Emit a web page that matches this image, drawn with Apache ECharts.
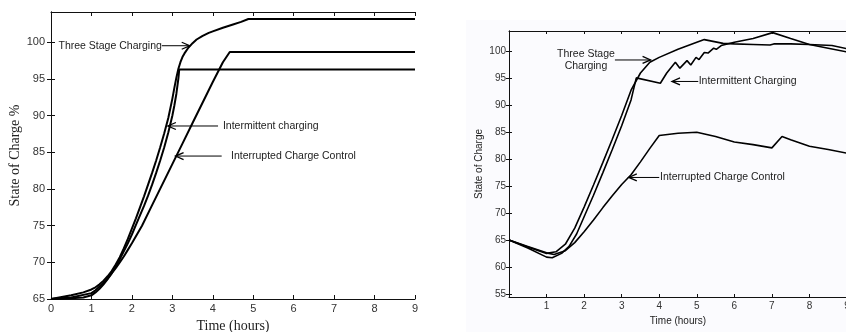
<!DOCTYPE html>
<html><head><meta charset="utf-8">
<script src="https://cdn.jsdelivr.net/npm/echarts@6/dist/echarts.min.js"></script>
<style>html,body{margin:0;padding:0;background:#fff;}#c{width:846px;height:332px;}</style>
</head><body><div id="c"></div>
<script>
// ---------- data (hours, state of charge) ----------
const leftThreeStage = [[0,65],[0.5,65.5],[0.8,65.9],[1,66.3],[1.1,66.6],[1.2,67.0],[1.3,67.5],[1.4,68.1],[1.5,68.8],[1.6,69.7],[1.7,70.7],[1.8,71.9],[1.9,73.2],[2.0,74.6],[2.1,76.0],[2.2,77.5],[2.3,79.0],[2.4,80.6],[2.5,82.2],[2.6,83.9],[2.7,85.7],[2.8,87.6],[2.9,89.7],[3.0,92.3],[3.05,93.8],[3.1,95.2],[3.15,96.4],[3.2,97.3],[3.25,98.0],[3.3,98.5],[3.4,99.3],[3.5,99.9],[3.6,100.4],[3.75,100.9],[3.9,101.3],[4.0,101.5],[4.25,102.0],[4.5,102.45],[4.7,102.8],[4.88,103.2],[9,103.2]];
const leftIntermittent = [[0,65],[0.5,65.1],[0.8,65.2],[1,65.5],[1.1,65.9],[1.2,66.4],[1.3,67.0],[1.4,67.7],[1.5,68.5],[1.6,69.4],[1.7,70.4],[1.8,71.5],[1.9,72.6],[2.0,73.8],[2.1,75.1],[2.2,76.4],[2.3,77.7],[2.4,79.1],[2.5,80.6],[2.6,82.2],[2.7,83.9],[2.8,85.7],[2.9,87.7],[3.0,90.0],[3.05,91.4],[3.1,93.0],[3.15,95.1],[3.17,96.3],[9,96.3]];
const leftInterrupted = [[0,65],[0.5,65.2],[1,65.8],[1.1,66.2],[1.2,66.7],[1.3,67.2],[1.4,67.8],[1.5,68.5],[1.6,69.2],[1.7,70.0],[1.8,70.8],[1.9,71.7],[2.0,72.6],[2.25,75],[2.5,77.8],[2.75,80.6],[3.0,83.4],[3.25,86.2],[3.5,89],[3.75,91.8],[4.0,94.6],[4.25,97.3],[4.42,98.7],[9,98.7]];

const rightThreeStage = [[0,65],[0.5,63.7],[1.0,62.5],[1.25,62.8],[1.5,64.2],[1.75,67.2],[2.0,71.1],[2.25,75.2],[2.5,79.4],[2.75,83.7],[3.0,88.1],[3.25,92.8],[3.5,96.0],[3.75,98.0],[4.0,98.9],[4.5,100.4],[5.0,101.7],[5.2,102.2],[5.7,101.5],[6.0,101.4],[6.5,101.3],[6.95,101.2],[7.0,101.0],[7.05,101.4],[7.5,101.4],[8.0,101.3],[8.6,101.1],[9,100.5]];
const rightIntermittent = [[0,65],[0.5,63.5],[1.0,61.8],[1.15,61.7],[1.4,62.5],[1.6,63.8],[1.8,66.1],[2.0,69.3],[2.25,73.3],[2.5,77.5],[2.75,81.8],[3.0,86.2],[3.25,91.0],[3.39,95.1],[4.03,94.1],[4.2,96],[4.43,98],[4.55,96.9],[4.74,98.3],[4.84,97.5],[4.98,98.9],[5.06,98.5],[5.2,99.8],[5.3,99.7],[5.45,100.6],[5.52,100.4],[5.65,101.1],[6.0,101.7],[6.5,102.4],[7.02,103.5],[7.5,102.4],[8.0,101.3],[8.5,100.6],[9,99.9]];
const rightInterrupted = [[0,65],[0.5,63.8],[1.0,62.6],[1.2,62.3],[1.5,63.0],[1.75,64.5],[2.0,66.5],[2.25,68.7],[2.5,71],[2.75,73.2],[3.0,75.3],[3.25,77.1],[3.5,79.5],[3.75,82],[4.0,84.4],[4.5,84.8],[5.0,85.0],[5.5,84.2],[6.0,83.2],[6.5,82.7],[7.0,82.1],[7.27,84.2],[7.5,83.6],[8.0,82.4],[8.5,81.8],[9,81.1]];

const leftXTicks = [0,1,2,3,4,5,6,7,8,9];
const leftYTicks = [65,70,75,80,85,90,95,100];
const rightXLabels = [1,2,3,4,5,6,7,8,9];
const rightXTicks = [1,2,3,4,5,6,7,8];
const rightYTicks = [55,60,65,70,75,80,85,90,95,100];

// annotations: text, arrow start, arrow tip (data units)
const leftNotes = [
  {text:'Three Stage Charging', from:[2.74,99.55], to:[3.43,99.55], side:'left'},
  {text:'Intermittent charging', from:[4.13,88.6], to:[2.89,88.6], side:'right', gap:[4.25,88.6]},
  {text:'Interrupted Charge Control', from:[4.22,84.5], to:[3.08,84.5], side:'right', gap:[4.45,84.5]}
];
const rightNotes = [
  {text:'Three Stage\nCharging', from:[2.82,98.42], to:[3.77,98.42], side:'block', gap:[2.05,98.42]},
  {text:'Intermittent Charging', from:[5.04,94.43], to:[4.34,94.43], side:'right', gap:[5.05,94.43]},
  {text:'Interrupted Charge Control', from:[4.0,76.6], to:[3.19,76.6], side:'right', gap:[4.02,76.6]}
];

const chart = echarts.init(document.getElementById('c'), null, {renderer:'canvas'});
const SANS = 'Liberation Sans, Arial, sans-serif';
const SERIF = 'Liberation Serif, Times New Roman, serif';
const axisLine = {show:true, lineStyle:{color:'#111', width:1}};

function xAx(grid, pos, min, max, labels, ticks, fs, name, nameFont, nameGap, nameSize, tickLen){
  return {gridIndex:grid, type:'value', position:pos, min:min, max:max, axisLine:axisLine,
    splitLine:{show:false},
    axisTick:{show:true, inside:true, length:tickLen, lineStyle:{color:'#111'}, customValues:ticks},
    axisLabel:{show:!!labels, customValues:labels||[], color:'#333', fontSize:fs, fontFamily:SANS, margin:4},
    name:name||'', nameLocation:'middle', nameGap:nameGap, nameTextStyle:{fontFamily:nameFont, fontSize:nameSize, color:'#222'}};
}
function yAx(grid, pos, min, max, labels, ticks, fs, name, nameFont, nameGap, nameSize, tickLen, margin){
  return {gridIndex:grid, type:'value', position:pos, min:min, max:max, axisLine:axisLine,
    splitLine:{show:false},
    axisTick:{show:true, inside:true, length:tickLen, lineStyle:{color:'#111'}, customValues:ticks},
    axisLabel:{show:!!labels, customValues:labels||[], color:'#333', fontSize:fs, fontFamily:SANS, margin:margin},
    name:name||'', nameLocation:'middle', nameRotate:90, nameGap:nameGap, nameTextStyle:{fontFamily:nameFont, fontSize:nameSize, color:'#222'}};
}
function ser(data, xi, yi, w){
  return {type:'line', data:data, xAxisIndex:xi, yAxisIndex:yi, showSymbol:false, symbol:'none', smooth:false,
    lineStyle:{color:'#000', width:w}, silent:true, animation:false};
}

chart.setOption({
  animation:false,
  backgroundColor:'#ffffff',
  grid:[
    {left:51, top:12, width:364, height:287, show:false, containLabel:false, outerBoundsMode:'none'},
    {left:509, top:31, width:338, height:266, show:true, backgroundColor:'#fbfbfe', borderWidth:0, containLabel:false, outerBoundsMode:'none'}
  ],
  xAxis:[
    xAx(0,'bottom',0,9,leftXTicks,leftXTicks,11,'Time (hours)',SERIF,19,14,4),
    xAx(0,'top',0,9,null,leftXTicks,11,'',SERIF,0,14,4),
    xAx(1,'bottom',0,9,rightXLabels,rightXTicks,10,'Time (hours)',SANS,17,10,3),
    xAx(1,'top',0,9,null,rightXTicks,10,'',SANS,0,10,3)
  ],
  yAxis:[
    yAx(0,'left',65,104.15,leftYTicks,leftYTicks,11,'State of Charge %',SERIF,27,14,4,6),
    yAx(0,'right',65,104.15,null,leftYTicks,11,'',SERIF,0,14,4,6),
    yAx(1,'left',54.4,103.8,rightYTicks,rightYTicks,10,'State of Charge',SANS,25,10,3,3),
    yAx(1,'right',54.4,103.8,null,rightYTicks,10,'',SANS,0,10,3,3)
  ],
  series:[
    ser(leftThreeStage,0,0,2), ser(leftIntermittent,0,0,2), ser(leftInterrupted,0,0,2),
    ser(rightThreeStage,2,2,1.6), ser(rightIntermittent,2,2,1.6), ser(rightInterrupted,2,2,1.6)
  ]
});

function arrowGraphics(notes, grid, fs){
  const out = [];
  notes.forEach(n => {
    const a = chart.convertToPixel({gridIndex:grid}, n.from);
    const b = chart.convertToPixel({gridIndex:grid}, n.to);
    const dir = Math.sign(b[0]-a[0]) || 1;
    out.push({type:'line', shape:{x1:a[0], y1:a[1], x2:b[0], y2:b[1]}, style:{stroke:'#000', lineWidth:1}, z:10});
    out.push({type:'polyline', shape:{points:[[b[0]-dir*8, b[1]-3.5],[b[0], b[1]],[b[0]-dir*8, b[1]+3.5]]}, style:{stroke:'#000', lineWidth:1.3, fill:null}, z:10});
    let tx, ty, align;
    if (n.side === 'left') { tx = a[0]; ty = a[1]; align = 'right'; }
    else if (n.side === 'block') { const g = chart.convertToPixel({gridIndex:grid}, n.gap); tx = g[0]; ty = g[1]; align = 'center'; }
    else { const g = chart.convertToPixel({gridIndex:grid}, n.gap); tx = g[0]; ty = g[1]; align = 'left'; }
    out.push({type:'text', x:tx, y:ty, z:11, style:{text:n.text, fill:'#222', font: fs+'px '+SANS, align:align, verticalAlign:'middle', lineHeight:12.5}});
  });
  return out;
}
const rightBg = {type:'rect', left:466, top:20, shape:{width:380, height:312}, style:{fill:'#fbfbfe'}, z:-10, silent:true};
chart.setOption({graphic:[rightBg].concat(arrowGraphics(leftNotes,0,10.5), arrowGraphics(rightNotes,1,10.5))});
</script></body></html>
